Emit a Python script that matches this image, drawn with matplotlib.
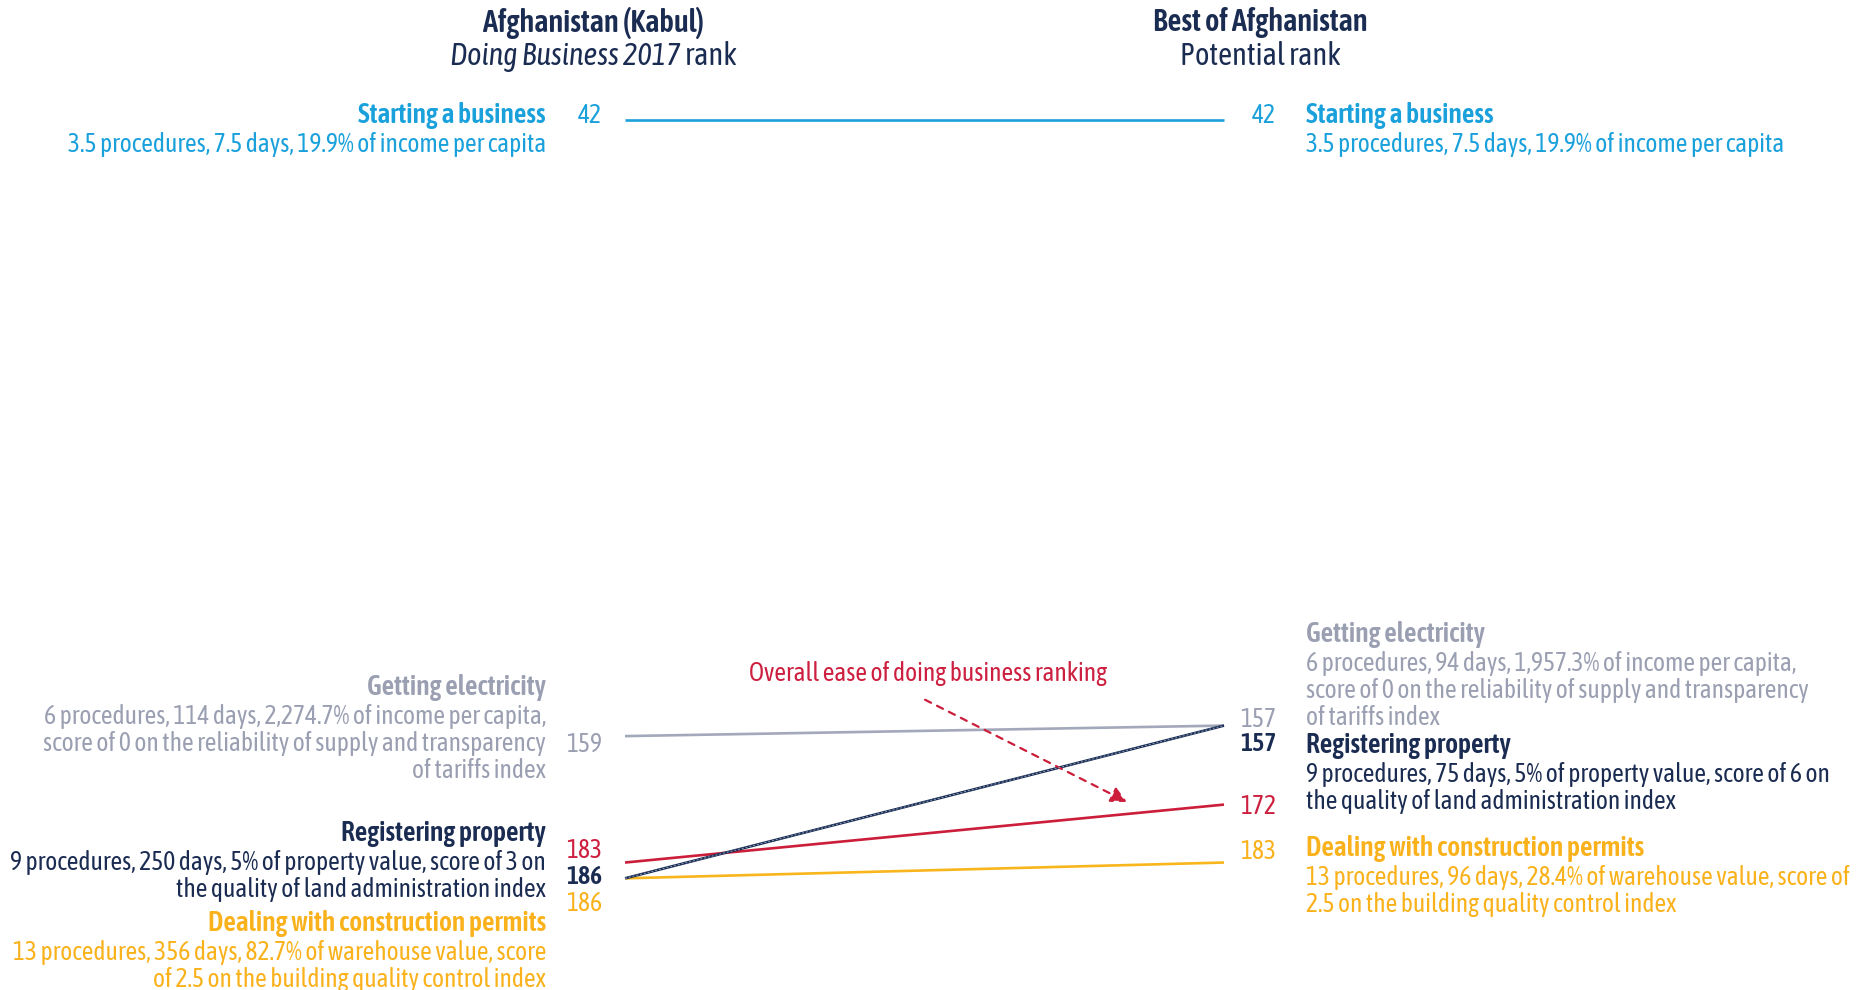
import matplotlib
matplotlib.use('Agg')
import matplotlib.pyplot as plt
from matplotlib import font_manager as fm
from collections import defaultdict

# Data
indicators = ['Starting a business', 'Getting electricity', 'Registering property',
              'Dealing with construction permits', 'Overall ease of doing business ranking']
kabul_rank = [42, 159, 186, 186, 183]
best_rank = [42, 157, 157, 183, 172]
kabul_detail = [
    ['3.5 procedures, 7.5 days, 19.9% of income per capita'],
    ['6 procedures, 114 days, 2,274.7% of income per capita,',
     'score of 0 on the reliability of supply and transparency',
     'of tariffs index'],
    ['9 procedures, 250 days, 5% of property value, score of 3 on',
     'the quality of land administration index'],
    ['13 procedures, 356 days, 82.7% of warehouse value, score',
     'of 2.5 on the building quality control index'],
]
best_detail = [
    ['3.5 procedures, 7.5 days, 19.9% of income per capita'],
    ['6 procedures, 94 days, 1,957.3% of income per capita,',
     'score of 0 on the reliability of supply and transparency',
     'of tariffs index'],
    ['9 procedures, 75 days, 5% of property value, score of 6 on',
     'the quality of land administration index'],
    ['13 procedures, 96 days, 28.4% of warehouse value, score of',
     '2.5 on the building quality control index'],
]
colors = ['#1aa1dc', '#9a9fb2', '#1b2c52', '#f9b21c', '#cd1f3f']
line_colors = ['#1aa1dc', '#a3a8ba', '#1b2c52', '#f9b51c', '#cc1d3a']
header_color = '#1b2c52'


def as_weight(w):
    if isinstance(w, str):
        return fm.weight_dict.get(w, 400)
    return w


# pick a narrow sans family that has a bold face, if one is installed
def pick_font():
    fams = defaultdict(set)
    for f in fm.fontManager.ttflist:
        if 'Serif' in f.name or 'Mono' in f.name or 'CJK' in f.name:
            continue
        narrow = ('Narrow' in f.name or 'Condensed' in f.name
                  or 'condensed' in str(f.stretch))
        if narrow:
            fams[(f.name, str(f.stretch))].add((as_weight(f.weight), f.style))
    best, best_score = None, -1
    for key, faces in fams.items():
        ws = [w for w, s in faces if s == 'normal']
        score = 0
        if any(350 <= w <= 500 for w in ws):
            score += 2
        if any(w >= 600 for w in ws):
            score += 4
        if any(s == 'italic' for w, s in faces):
            score += 1
        if score > best_score:
            best, best_score = key, score
    if best is None:
        return 'Liberation Sans', 'normal'
    name, stretch = best
    if 'condensed' not in stretch:
        stretch = 'normal'
    return name, stretch


FAMILY, STRETCH = pick_font()
plt.rcParams['font.family'] = [FAMILY, 'DejaVu Sans']
plt.rcParams['font.stretch'] = STRETCH
BOLD = 600

fig = plt.figure(figsize=(18.58, 9.90), dpi=100)
ax = fig.add_axes([0, 0, 1, 1])
ax.set_xlim(-1.0434, 2.0584)
ax.set_ylim(207.2, 19.25)
ax.axis('off')
renderer = fig.canvas.get_renderer()


def text_width(s, size, **kw):
    t = fig.text(0, 0, s, fontsize=size, **kw)
    w = t.get_window_extent(renderer).width
    t.remove()
    return w


# size the text so that the long lines get the reference widths
FS = min(16.0 * 478 / text_width(kabul_detail[0][0], 16.0), 18.5)
TS = min(16.0 * 190 / text_width(indicators[0], 16.0, fontweight=BOLD), FS * 1.08)
HS = min(17.0 * 233 / text_width('Afghanistan (Kabul)', 17.0, fontweight=BOLD), 22.0)

# slope lines
for i in [0, 1, 3, 4, 2]:
    ax.plot([0, 1], [kabul_rank[i], best_rank[i]], color=line_colors[i], lw=1.9,
            solid_capstyle='butt', zorder=3)
ax.plot([0, 1], [kabul_rank[2], best_rank[2]], color='#8fa3c2', lw=0.7,
        dashes=(2, 2), zorder=4)

LH = 27  # detail line height in pixels


def put(x, rank, dy, s, color, ha, weight='normal', size=None, dx=0, style='normal'):
    ax.annotate(s, xy=(x, rank), xytext=(dx, dy), textcoords='offset pixels',
                ha=ha, va='center', color=color, fontsize=size or FS,
                fontweight=weight, fontstyle=style)


def block(x, rank, dy, i, details, ha):
    put(x, rank, dy, indicators[i], colors[i], ha, weight=BOLD, size=TS)
    for k, line in enumerate(details):
        put(x, rank, dy - 29 - LH * k, line, colors[i], ha)


xl_txt, xl_num = -0.132, -0.038
xr_num, xr_txt = 1.087, 1.137

# left-hand labels (offsets in pixels, positive = up)
block(xl_txt, kabul_rank[0], 4, 0, kabul_detail[0], 'right')
block(xl_txt, kabul_rank[1], 49, 1, kabul_detail[1], 'right')
block(xl_txt, kabul_rank[2], 45, 2, kabul_detail[2], 'right')
block(xl_txt, kabul_rank[3], -45, 3, kabul_detail[3], 'right')
put(xl_num, kabul_rank[0], 4, str(kabul_rank[0]), colors[0], 'right')
put(xl_num, kabul_rank[1], -8, str(kabul_rank[1]), colors[1], 'right')
put(xl_num, kabul_rank[4], 12, str(kabul_rank[4]), colors[4], 'right')
put(xl_num, kabul_rank[2], 2, str(kabul_rank[2]), colors[2], 'right', weight=BOLD)
put(xl_num, kabul_rank[3], -25, str(kabul_rank[3]), colors[3], 'right')

# right-hand labels
block(xr_txt, best_rank[0], 4, 0, best_detail[0], 'left')
block(xr_txt, best_rank[1], 91, 1, best_detail[1], 'left')
block(xr_txt, best_rank[2], -20, 2, best_detail[2], 'left')
block(xr_txt, best_rank[3], 14, 3, best_detail[3], 'left')
put(xr_num, best_rank[0], 4, str(best_rank[0]), colors[0], 'right')
put(xr_num, best_rank[1], 6, str(best_rank[1]), colors[1], 'right')
put(xr_num, best_rank[2], -18, str(best_rank[2]), colors[2], 'right', weight=BOLD)
put(xr_num, best_rank[4], -2, str(best_rank[4]), colors[4], 'right')
put(xr_num, best_rank[3], 11, str(best_rank[3]), colors[3], 'right')

# overall ranking callout
ax.annotate(indicators[4], xy=(0.506, 147.2), ha='center', va='center',
            color=colors[4], fontsize=FS)
ax.annotate('', xy=(0.838, 171.5), xytext=(0.501, 152.1),
            arrowprops=dict(arrowstyle='-|>', color=line_colors[4], lw=1.6,
                            linestyle=(0, (3, 3)), mutation_scale=24,
                            shrinkA=0, shrinkB=0))

# column headers
ytop, ysub = 0.977, 0.943
tr = ax.get_xaxis_transform()
ax.text(-0.053, ytop, 'Afghanistan (Kabul)', transform=tr, ha='center', va='center',
        fontsize=HS, fontweight=BOLD, color=header_color)
w1 = text_width('Doing Business 2017', HS, fontstyle='italic')
w2 = text_width(' rank', HS)
ax.annotate('Doing Business 2017', xy=(-0.053, ysub), xycoords=tr,
            xytext=(-(w1 + w2) / 2, 0), textcoords='offset pixels', ha='left',
            va='center', fontsize=HS, fontstyle='italic', color=header_color)
ax.annotate(' rank', xy=(-0.053, ysub), xycoords=tr,
            xytext=(-(w1 + w2) / 2 + w1, 0), textcoords='offset pixels', ha='left',
            va='center', fontsize=HS, color=header_color)
ax.text(1.060, ytop, 'Best of Afghanistan', transform=tr, ha='center', va='center',
        fontsize=HS, fontweight=BOLD, color=header_color)
ax.text(1.060, ysub, 'Potential rank', transform=tr, ha='center', va='center',
        fontsize=HS, color=header_color)

fig.savefig('out.png', dpi=100)
